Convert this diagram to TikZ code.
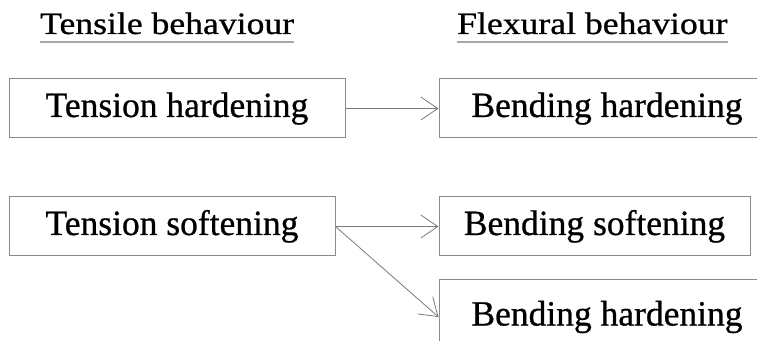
\documentclass[tikz,border=0pt]{standalone}
\usepackage{fontspec}
\setmainfont{Liberation Serif}
\newfontfamily\heavyserif[FakeBold=0.7]{Liberation Serif}
\usetikzlibrary{arrows.meta}
\definecolor{boxgray}{HTML}{8A8A8A}
\definecolor{arrgray}{HTML}{7A7A7A}
\definecolor{ulgray}{HTML}{A8A8A8}
\begin{document}
\begin{tikzpicture}[x=1pt,y=1pt,
  box/.style={draw=boxgray, line width=1pt, inner sep=0pt,
    font=\heavyserif\fontsize{35.5}{40}\selectfont, text height=24.5pt, text depth=7.5pt},
  titletext/.style={inner sep=0pt, anchor=base west, font=\heavyserif\fontsize{31}{36}\selectfont},
  uline/.style={draw=ulgray, line width=2pt},
  arr/.style={draw=arrgray, line width=0.8pt,
    -{Straight Barb[length=17pt,width=23pt,line width=0.8pt]}}]
\clip (0,0) rectangle (757,340);
\fill[white] (0,0) rectangle (757,340);
% titles
\node[titletext] (t1) at (40,306) {\scalebox{1.15}[1]{Tensile behaviour}};
\node[titletext] (t2) at (457,306) {\scalebox{1.15}[1]{Flexural behaviour}};
\draw[uline] ([yshift=-8pt]t1.base west) -- ([yshift=-8pt]t1.base east);
\draw[uline] ([yshift=-8pt]t2.base west) -- ([yshift=-8pt]t2.base east);
% boxes
\node[box, minimum width=336, minimum height=59] (a) at (177,231.5) {Tension hardening};
\node[box, minimum width=336, minimum height=59] (b) at (607,231.5) {Bending hardening};
\node[box, minimum width=326, minimum height=59] (c) at (172,113.5) {Tension softening};
\node[box, minimum width=311, minimum height=59] (d) at (594.5,113.5) {Bending softening};
\node[box, minimum width=336, minimum height=76] (e) at (607,23) {Bending hardening};
% connectors
\draw[arr] (a.east) -- (b.west);
\draw[arr] (c.east) -- (d.west);
\draw[arr] (c.east) -- (e.west);
\end{tikzpicture}
\end{document}
